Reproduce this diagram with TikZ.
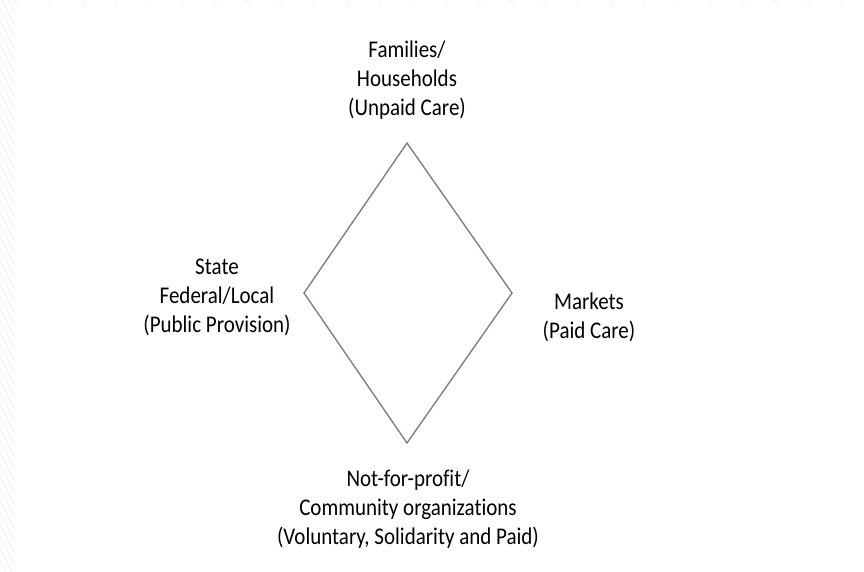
\documentclass[tikz,border=0pt]{standalone}
\usepackage{fontspec}
\setmainfont{Carlito}[Ligatures=NoCommon]
\newcommand{\tallbox}[1]{\scalebox{1}[1.14]{\begin{tabular}{@{}c@{}}#1\end{tabular}}}
\begin{document}
\begin{tikzpicture}[x=1pt,y=-1pt,
  lbl/.style={align=center,font=\fontsize{21}{25.5}\selectfont,inner sep=0pt},
  edge/.style={draw=black!50,line width=1.4pt,line join=miter}]
\useasboundingbox (0,0) rectangle (864,571);
\fill[white] (0,0) rectangle (864,571);
% faint background hatching
\begin{scope}
\clip (0,0) rectangle (15,571);
\foreach \i in {-40,-28,...,600} \draw[black!5,line width=0.8pt] (0,\i) -- (15,\i+30);
\end{scope}
\begin{scope}
\clip (15,0) rectangle (864,5);
\foreach \i in {15,48,...,864} \draw[black!5,line width=0.8pt] (\i,0) -- (\i+4,6);
\end{scope}
% diamond
\coordinate (t) at (407,143);
\coordinate (l) at (304,293);
\coordinate (r) at (512,293);
\coordinate (b) at (407,443);
\draw[edge] (t) -- (r) -- (b) -- (l) -- cycle;
% labels
\node[lbl] (fam) at (407,81) {\tallbox{Families/\\Households\\(Unpaid Care)}};
\node[lbl] (state) at (217,298) {\tallbox{State\\Federal/Local\\(Public Provision)}};
\node[lbl] (mkt) at (589,318) {\tallbox{Markets\\(Paid Care)}};
\node[lbl] (npo) at (408,510) {\tallbox{Not-for-profit/\\Community organizations\\(Voluntary, Solidarity and Paid)}};
\end{tikzpicture}
\end{document}
